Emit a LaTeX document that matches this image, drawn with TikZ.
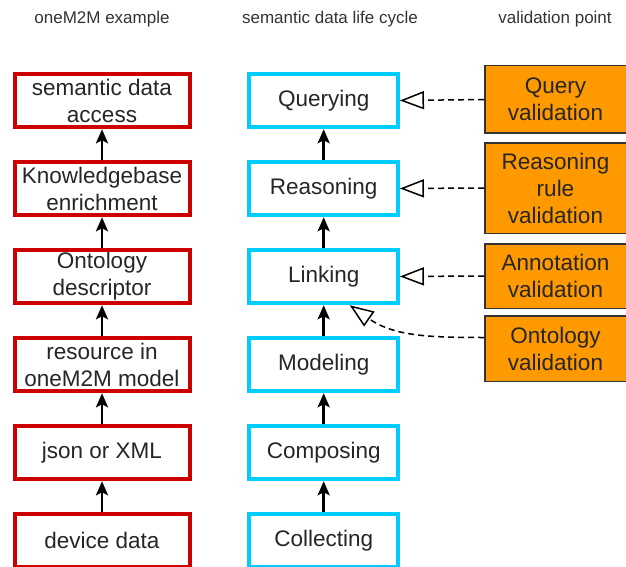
\documentclass[tikz,border=0pt]{standalone}
\usepackage{fontspec}
\setmainfont{Liberation Sans}
\usetikzlibrary{arrows.meta}

\definecolor{omrot}{HTML}{CC0000}
\definecolor{omcyan}{HTML}{00CCFF}
\definecolor{omorange}{HTML}{FF9900}
\definecolor{omgrau}{HTML}{333333}

\tikzset{
	titel/.style={text=omgrau, font=\fontsize{17}{20}\selectfont},
	beispiel/.style={draw=omrot, line width=4pt, fill=white, inner sep=0pt,
		minimum width=175pt, minimum height=53.5pt, align=center,
		text=black!85, font=\fontsize{22.5}{27}\selectfont},
	zyklus/.style={beispiel, draw=omcyan, minimum width=148.5pt},
	pruefung/.style={draw=omgrau, line width=1.5pt, fill=omorange, inner sep=0pt,
		minimum width=141.5pt, align=center,
		text=black!85, font=\fontsize{22.5}{27}\selectfont},
	pfeil/.style={line width=2.6pt, -{Stealth[length=14pt, width=12pt, inset=3pt]}},
	valid/.style={line width=1.5pt, dash pattern=on 6pt off 4pt,
		-{Triangle[open, length=24pt, width=18pt, line width=1.5pt]}},
}

\begin{document}
\begin{tikzpicture}[x=1pt, y=-1pt]
	\useasboundingbox (0, 0) rectangle (626, 567);

	% Spaltentitel
	\node[titel] (tbeispiel) at (102, 19) {oneM2M example};
	\node[titel] (tzyklus) at (330, 19) {semantic data life cycle};
	\node[titel] (tpunkt) at (555, 19) {validation point};

	% oneM2M Beispiel
	\node[beispiel] (access) at (102, 100.5) {semantic data\\access};
	\node[beispiel] (kb) at (102, 188.5) {Knowledgebase\\enrichment};
	\node[beispiel] (onto) at (102, 276.5) {Ontology\\descriptor};
	\node[beispiel] (res) at (102, 364.5) {resource in\\oneM2M model};
	\node[beispiel] (json) at (102, 452.5) {json or XML};
	\node[beispiel] (dev) at (102, 540.5) {device data};

	% Lebenszyklus
	\node[zyklus] (query) at (323.7, 100.5) {Querying};
	\node[zyklus] (reason) at (323.7, 188.5) {Reasoning};
	\node[zyklus] (link) at (323.7, 276.5) {Linking};
	\node[zyklus] (model) at (323.7, 364.5) {Modeling};
	\node[zyklus] (comp) at (323.7, 452.5) {Composing};
	\node[zyklus] (coll) at (323.7, 540.5) {Collecting};

	% Validierungspunkte
	\node[pruefung, minimum height=67.5pt] (qv) at (555.5, 99.5) {Query\\validation};
	\node[pruefung, minimum height=90.5pt] (rv) at (555.5, 188) {Reasoning\\rule\\validation};
	\node[pruefung, minimum height=64.5pt] (av) at (555.5, 276) {Annotation\\validation};
	\node[pruefung, minimum height=65.5pt] (ov) at (555.5, 348.5) {Ontology\\validation};

	% Pfeile nach oben
	\foreach \a/\b in {dev/json, json/res, res/onto, onto/kb, kb/access,
		coll/comp, comp/model, model/link, link/reason, reason/query}
		\draw[pfeil] (\a) -- (\b);

	% Validierung
	\draw[valid] (qv.west) -- (query.east);
	\draw[valid] (rv.west) -- (reason.east);
	\draw[valid] (av.west) -- (link.east);
	\draw[valid] ([yshift=11pt]ov.west) to[out=180, in=-35] ([xshift=26pt]link.south);
\end{tikzpicture}
\end{document}
